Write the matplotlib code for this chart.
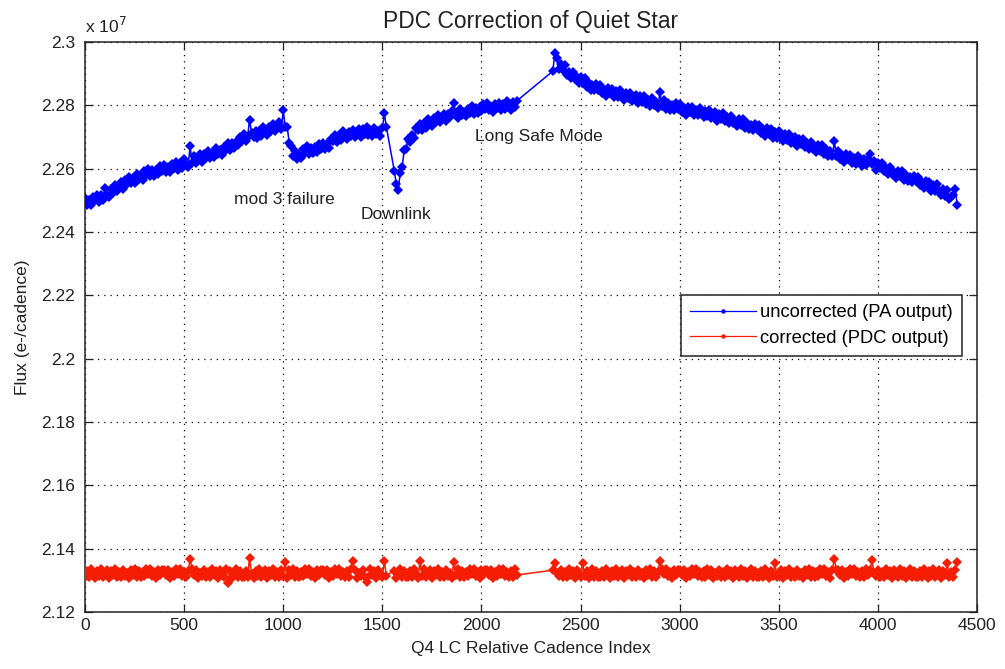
import matplotlib
matplotlib.use("Agg")
import matplotlib.pyplot as plt
import numpy as np
from matplotlib.ticker import FormatStrFormatter

plt.rcParams['font.family'] = ['Liberation Sans', 'DejaVu Sans']

# Relative long-cadence index, sampled every 10 cadences; no data during the
# downlink (1521-1559) and the long safe mode (2181-2359)
cadence = [*range(0, 1521, 10), *range(1560, 2181, 10), *range(2360, 4401, 10)]

# Uncorrected flux, PA output (units of 1e7 e-/cadence)
flux_pa = [
    # 0 - 1520
    2.2507, 2.2486, 2.2500, 2.2485, 2.2512, 2.2500, 2.2518, 2.2495, 2.2517, 2.2502,
    2.2540, 2.2517, 2.2509, 2.2536, 2.2524, 2.2548, 2.2528, 2.2545, 2.2559, 2.2537,
    2.2564, 2.2553, 2.2575, 2.2554, 2.2570, 2.2556, 2.2584, 2.2566, 2.2579, 2.2565,
    2.2592, 2.2579, 2.2600, 2.2576, 2.2595, 2.2578, 2.2597, 2.2584, 2.2608, 2.2593,
    2.2612, 2.2591, 2.2604, 2.2588, 2.2614, 2.2602, 2.2620, 2.2596, 2.2617, 2.2601,
    2.2629, 2.2615, 2.2605, 2.2672, 2.2617, 2.2640, 2.2617, 2.2633, 2.2645, 2.2622,
    2.2647, 2.2635, 2.2657, 2.2635, 2.2651, 2.2637, 2.2664, 2.2646, 2.2658, 2.2644,
    2.2670, 2.2658, 2.2682, 2.2659, 2.2681, 2.2665, 2.2685, 2.2675, 2.2700, 2.2688,
    2.2708, 2.2687, 2.2701, 2.2755, 2.2713, 2.2701, 2.2719, 2.2696, 2.2718, 2.2703,
    2.2731, 2.2717, 2.2707, 2.2733, 2.2719, 2.2742, 2.2720, 2.2735, 2.2748, 2.2724,
    2.2784, 2.2732, 2.2732, 2.2682, 2.2672, 2.2639, 2.2656, 2.2632, 2.2644, 2.2634,
    2.2663, 2.2650, 2.2671, 2.2647, 2.2666, 2.2649, 2.2667, 2.2654, 2.2678, 2.2663,
    2.2682, 2.2663, 2.2679, 2.2665, 2.2695, 2.2686, 2.2706, 2.2684, 2.2706, 2.2692,
    2.2720, 2.2704, 2.2693, 2.2717, 2.2702, 2.2723, 2.2700, 2.2714, 2.2725, 2.2701,
    2.2725, 2.2711, 2.2731, 2.2707, 2.2721, 2.2704, 2.2729, 2.2709, 2.2719, 2.2703,
    2.2727, 2.2775, 2.2732,
    # 1560 - 2180
    2.2594, 2.2552, 2.2533, 2.2585, 2.2606, 2.2658, 2.2662, 2.2694, 2.2683, 2.2706,
    2.2697, 2.2729, 2.2721, 2.2742, 2.2722, 2.2744, 2.2729, 2.2758, 2.2744, 2.2735,
    2.2760, 2.2747, 2.2770, 2.2747, 2.2763, 2.2774, 2.2750, 2.2774, 2.2762, 2.2783,
    2.2806, 2.2776, 2.2760, 2.2787, 2.2768, 2.2779, 2.2765, 2.2790, 2.2777, 2.2798,
    2.2773, 2.2793, 2.2775, 2.2794, 2.2781, 2.2804, 2.2788, 2.2806, 2.2784, 2.2796,
    2.2779, 2.2805, 2.2791, 2.2808, 2.2784, 2.2803, 2.2787, 2.2814, 2.2797, 2.2786,
    2.2810, 2.2794, 2.2815,
    # 2360 - 4400
    2.2908, 2.2965, 2.2951, 2.2915, 2.2930, 2.2911, 2.2926, 2.2897, 2.2906, 2.2885,
    2.2906, 2.2883, 2.2889, 2.2870, 2.2890, 2.2871, 2.2887, 2.2858, 2.2872, 2.2850,
    2.2865, 2.2848, 2.2868, 2.2849, 2.2864, 2.2839, 2.2850, 2.2830, 2.2854, 2.2838,
    2.2853, 2.2826, 2.2844, 2.2825, 2.2850, 2.2831, 2.2818, 2.2839, 2.2822, 2.2840,
    2.2814, 2.2825, 2.2834, 2.2806, 2.2828, 2.2812, 2.2831, 2.2805, 2.2818, 2.2799,
    2.2823, 2.2801, 2.2810, 2.2792, 2.2842, 2.2798, 2.2817, 2.2789, 2.2806, 2.2785,
    2.2801, 2.2785, 2.2806, 2.2788, 2.2804, 2.2780, 2.2791, 2.2771, 2.2795, 2.2780,
    2.2795, 2.2769, 2.2786, 2.2768, 2.2793, 2.2775, 2.2762, 2.2783, 2.2766, 2.2785,
    2.2759, 2.2771, 2.2779, 2.2752, 2.2774, 2.2758, 2.2776, 2.2750, 2.2762, 2.2743,
    2.2766, 2.2744, 2.2752, 2.2734, 2.2756, 2.2739, 2.2757, 2.2729, 2.2745, 2.2724,
    2.2739, 2.2722, 2.2742, 2.2724, 2.2739, 2.2714, 2.2724, 2.2704, 2.2727, 2.2711,
    2.2725, 2.2698, 2.2715, 2.2696, 2.2720, 2.2701, 2.2687, 2.2708, 2.2690, 2.2708,
    2.2681, 2.2692, 2.2700, 2.2672, 2.2693, 2.2677, 2.2695, 2.2669, 2.2681, 2.2662,
    2.2684, 2.2662, 2.2670, 2.2652, 2.2674, 2.2657, 2.2674, 2.2646, 2.2662, 2.2641,
    2.2655, 2.2639, 2.2686, 2.2641, 2.2656, 2.2631, 2.2642, 2.2622, 2.2646, 2.2630,
    2.2644, 2.2618, 2.2635, 2.2616, 2.2641, 2.2622, 2.2609, 2.2630, 2.2612, 2.2631,
    2.2645, 2.2616, 2.2624, 2.2597, 2.2618, 2.2601, 2.2619, 2.2592, 2.2603, 2.2584,
    2.2606, 2.2583, 2.2590, 2.2572, 2.2593, 2.2576, 2.2594, 2.2565, 2.2581, 2.2560,
    2.2575, 2.2559, 2.2578, 2.2560, 2.2575, 2.2550, 2.2559, 2.2539, 2.2561, 2.2545,
    2.2559, 2.2531, 2.2548, 2.2528, 2.2552, 2.2531, 2.2516, 2.2535, 2.2515, 2.2532,
    2.2503, 2.2512, 2.2518, 2.2537, 2.2484,
]

# Corrected flux, PDC output (units of 1e7 e-/cadence)
flux_pdc = [
    # 0 - 1520
    2.1309, 2.1328, 2.1311, 2.1337, 2.1320, 2.1308, 2.1331, 2.1315, 2.1335, 2.1310,
    2.1323, 2.1333, 2.1307, 2.1330, 2.1316, 2.1336, 2.1312, 2.1326, 2.1309, 2.1334,
    2.1314, 2.1324, 2.1308, 2.1332, 2.1317, 2.1337, 2.1311, 2.1329, 2.1310, 2.1327,
    2.1313, 2.1335, 2.1319, 2.1336, 2.1313, 2.1325, 2.1307, 2.1332, 2.1318, 2.1334,
    2.1334, 2.1318, 2.1332, 2.1307, 2.1325, 2.1313, 2.1336, 2.1319, 2.1335, 2.1313,
    2.1327, 2.1310, 2.1329, 2.1367, 2.1337, 2.1317, 2.1332, 2.1308, 2.1324, 2.1314,
    2.1334, 2.1309, 2.1326, 2.1312, 2.1336, 2.1316, 2.1330, 2.1307, 2.1333, 2.1323,
    2.1310, 2.1335, 2.1293, 2.1331, 2.1308, 2.1320, 2.1337, 2.1311, 2.1328, 2.1309,
    2.1309, 2.1328, 2.1311, 2.1370, 2.1320, 2.1308, 2.1331, 2.1315, 2.1335, 2.1310,
    2.1323, 2.1333, 2.1307, 2.1330, 2.1316, 2.1336, 2.1312, 2.1326, 2.1309, 2.1334,
    2.1314, 2.1359, 2.1308, 2.1332, 2.1317, 2.1337, 2.1311, 2.1329, 2.1310, 2.1327,
    2.1313, 2.1335, 2.1319, 2.1336, 2.1313, 2.1325, 2.1307, 2.1332, 2.1318, 2.1334,
    2.1334, 2.1318, 2.1332, 2.1307, 2.1325, 2.1313, 2.1336, 2.1319, 2.1335, 2.1313,
    2.1327, 2.1310, 2.1329, 2.1311, 2.1337, 2.1360, 2.1332, 2.1308, 2.1324, 2.1314,
    2.1334, 2.1309, 2.1295, 2.1312, 2.1336, 2.1316, 2.1330, 2.1307, 2.1333, 2.1323,
    2.1310, 2.1362, 2.1315,
    # 1560 - 2180
    2.1331, 2.1308, 2.1320, 2.1337, 2.1311, 2.1328, 2.1309,
    2.1309, 2.1328, 2.1311, 2.1337, 2.1320, 2.1308, 2.1362, 2.1315, 2.1335, 2.1310,
    2.1323, 2.1333, 2.1307, 2.1330, 2.1316, 2.1336, 2.1312, 2.1326, 2.1309, 2.1334,
    2.1314, 2.1324, 2.1308, 2.1358, 2.1317, 2.1337, 2.1311, 2.1329, 2.1310, 2.1327,
    2.1313, 2.1335, 2.1319, 2.1336, 2.1313, 2.1325, 2.1307, 2.1332, 2.1318, 2.1334,
    2.1334, 2.1318, 2.1332, 2.1307, 2.1325, 2.1313, 2.1336, 2.1319, 2.1335, 2.1313,
    2.1327, 2.1310, 2.1329, 2.1311, 2.1337, 2.1317,
    # 2360 - 4400
    2.1332, 2.1355, 2.1324, 2.1314,
    2.1334, 2.1309, 2.1326, 2.1312, 2.1336, 2.1316, 2.1330, 2.1307, 2.1333, 2.1323,
    2.1310, 2.1355, 2.1315, 2.1331, 2.1308, 2.1320, 2.1337, 2.1311, 2.1328, 2.1309,
    2.1309, 2.1328, 2.1311, 2.1337, 2.1320, 2.1308, 2.1331, 2.1315, 2.1335, 2.1310,
    2.1323, 2.1333, 2.1307, 2.1330, 2.1316, 2.1336, 2.1312, 2.1326, 2.1309, 2.1334,
    2.1314, 2.1324, 2.1308, 2.1332, 2.1317, 2.1337, 2.1311, 2.1329, 2.1310, 2.1327,
    2.1362, 2.1335, 2.1319, 2.1336, 2.1313, 2.1325, 2.1307, 2.1332, 2.1318, 2.1334,
    2.1334, 2.1318, 2.1332, 2.1307, 2.1325, 2.1313, 2.1336, 2.1319, 2.1335, 2.1313,
    2.1327, 2.1310, 2.1329, 2.1311, 2.1337, 2.1317, 2.1332, 2.1308, 2.1324, 2.1314,
    2.1334, 2.1309, 2.1326, 2.1312, 2.1336, 2.1316, 2.1330, 2.1307, 2.1333, 2.1323,
    2.1310, 2.1335, 2.1315, 2.1331, 2.1308, 2.1320, 2.1337, 2.1311, 2.1328, 2.1309,
    2.1309, 2.1328, 2.1311, 2.1337, 2.1320, 2.1308, 2.1331, 2.1315, 2.1355, 2.1310,
    2.1323, 2.1333, 2.1307, 2.1330, 2.1316, 2.1336, 2.1312, 2.1326, 2.1309, 2.1334,
    2.1314, 2.1324, 2.1308, 2.1332, 2.1317, 2.1337, 2.1311, 2.1329, 2.1310, 2.1327,
    2.1313, 2.1335, 2.1319, 2.1336, 2.1313, 2.1325, 2.1307, 2.1332, 2.1367, 2.1334,
    2.1334, 2.1318, 2.1332, 2.1307, 2.1325, 2.1313, 2.1336, 2.1319, 2.1335, 2.1313,
    2.1327, 2.1310, 2.1329, 2.1311, 2.1337, 2.1317, 2.1332, 2.1363, 2.1324, 2.1314,
    2.1334, 2.1309, 2.1326, 2.1312, 2.1336, 2.1316, 2.1330, 2.1307, 2.1333, 2.1323,
    2.1310, 2.1335, 2.1315, 2.1331, 2.1308, 2.1320, 2.1337, 2.1311, 2.1328, 2.1309,
    2.1309, 2.1328, 2.1311, 2.1337, 2.1320, 2.1308, 2.1331, 2.1315, 2.1335, 2.1310,
    2.1323, 2.1333, 2.1307, 2.1330, 2.1316, 2.1355, 2.1312, 2.1326, 2.1309, 2.1334,
    2.1358,
]

x_ticks = [0, 500, 1000, 1500, 2000, 2500, 3000, 3500, 4000, 4500]
y_ticks = [2.12, 2.14, 2.16, 2.18, 2.20, 2.22, 2.24, 2.26, 2.28, 2.30]

events = [
    ("mod 3 failure", 1004, 2.2504),
    ("Downlink", 1567, 2.2454),
    ("Long Safe Mode", 2288, 2.2701),
]

if not (len(cadence) == len(flux_pa) == len(flux_pdc)):
    raise ValueError(f"lengths: {len(cadence)} {len(flux_pa)} {len(flux_pdc)}")

FS = 12.5
INK = '#222222'
BLUE = '#0000ff'
RED = '#f51e05'

fig = plt.figure(figsize=(10.05, 6.69), dpi=100)
ax = fig.add_axes([0.0846, 0.0852, 0.8876, 0.8520])

style = dict(linestyle='-', linewidth=1.1, marker='D', markersize=5.2,
             markeredgewidth=0, zorder=3)
ax.plot(cadence, flux_pa, color=BLUE, label='uncorrected (PA output)', **style)
ax.plot(cadence, flux_pdc, color=RED, label='corrected (PDC output)', **style)

ax.set_xlim(0, 4500)
ax.set_ylim(2.12, 2.30)
ax.set_xticks(x_ticks)
ax.set_yticks(y_ticks)
ax.yaxis.set_major_formatter(FormatStrFormatter('%g'))

ax.grid(True, color='black', linestyle=(0, (1, 4)), linewidth=0.9)
ax.tick_params(direction='in', length=6, width=0.9, top=True, right=True,
               labelsize=FS, colors=INK)
ax.tick_params(axis='x', pad=4)
ax.tick_params(axis='y', pad=7)
for s in ax.spines.values():
    s.set_linewidth(1.1)
    s.set_color(INK)

ax.set_xlabel('Q4 LC Relative Cadence Index', fontsize=FS, labelpad=6, color=INK)
ax.set_ylabel('Flux (e-/cadence)', fontsize=FS, labelpad=8, color=INK)
ax.set_title('PDC Correction of Quiet Star', fontsize=16.5, pad=10, color=INK)
ax.text(0.0, 1.016, 'x 10$^{7}$', transform=ax.transAxes, ha='left', va='baseline',
        fontsize=FS, color=INK)

for label, cx, cy in events:
    ax.text(cx, cy, label, ha='center', va='center', fontsize=FS, color=INK)

leg = ax.legend(loc='upper right', bbox_to_anchor=(0.983, 0.556), fontsize=13.2,
                fancybox=False, framealpha=1.0, edgecolor=INK,
                handlelength=3.6, handletextpad=0.2, borderpad=0.5,
                labelspacing=0.45, borderaxespad=0.0)
leg.get_frame().set_linewidth(1.1)
for h in leg.legend_handles:
    h.set_marker('o')
    h.set_markersize(3.2)
    h.set_linewidth(0.9)

fig.savefig('out.png', dpi=100)
